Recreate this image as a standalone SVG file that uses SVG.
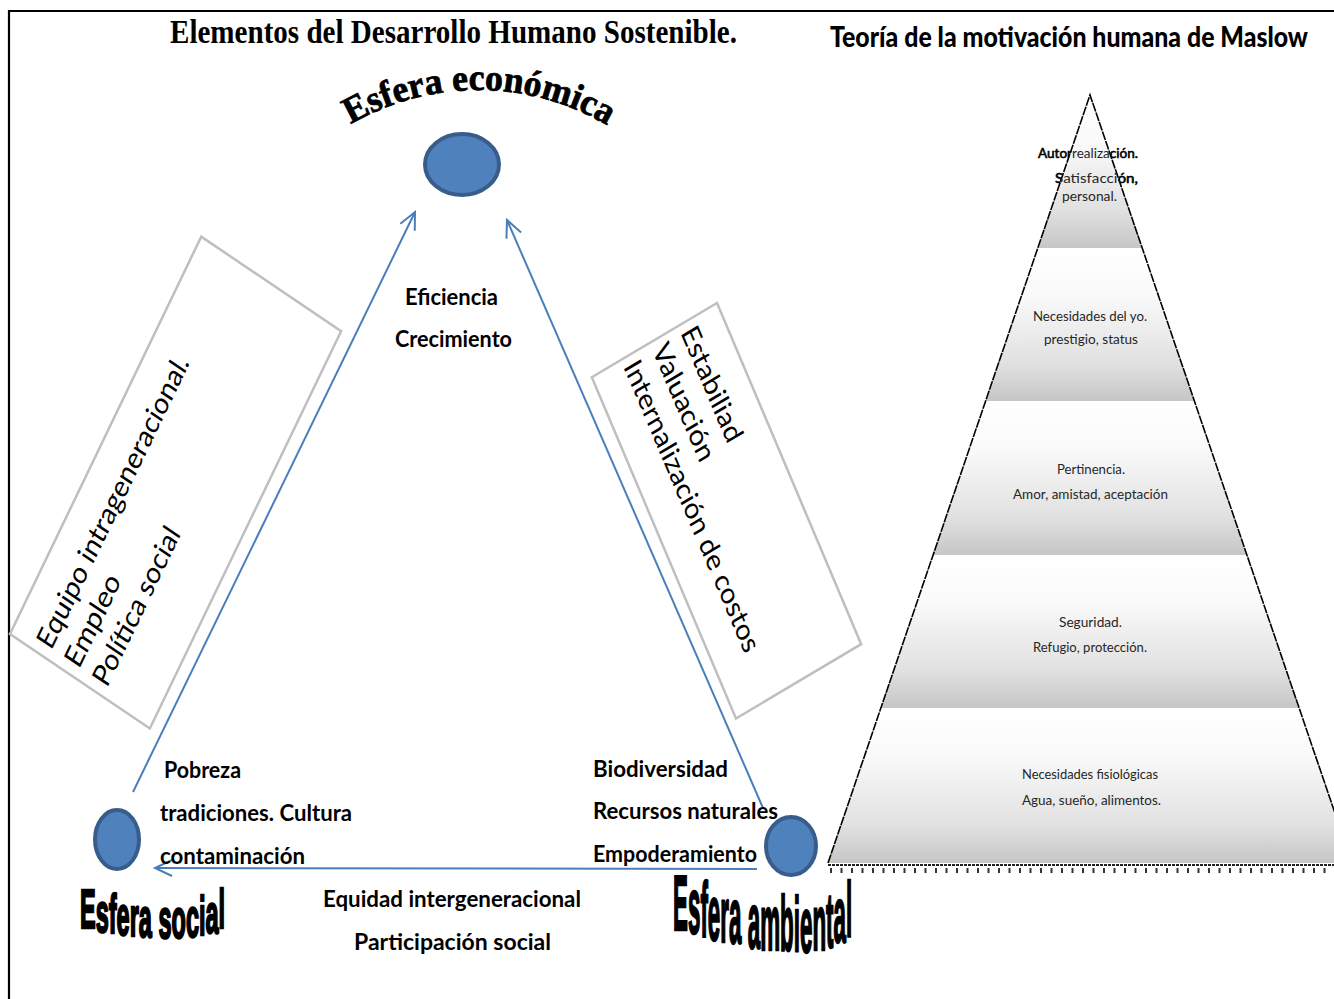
<svg xmlns="http://www.w3.org/2000/svg" width="1334" height="999" viewBox="0 0 1334 999">
<style>
.frame{stroke:#000;stroke-width:2.2;fill:none}
.conn{stroke:#4a7ebb;stroke-width:2;fill:none}
.node{fill:#4f81bd;stroke:#385d8a;stroke-width:4}
.lbl{font-family:Lato,"Liberation Sans",sans-serif;font-weight:700;font-size:23px;fill:#000}
.box{fill:#fff;stroke:#bfbfbf;stroke-width:2.5;vector-effect:non-scaling-stroke}
.boxtxt{font-family:Lato,"Liberation Sans",sans-serif;font-size:26px;fill:#000}
.art{font-family:"Liberation Sans",Arial,sans-serif;font-weight:700;fill:#000;stroke:#000;stroke-width:2.5}
.pyr{font-family:Lato,"Liberation Sans",sans-serif;font-size:14px;fill:#262626}
.band{fill:url(#bandGrad)}
</style>
<defs>
<marker id="arr" markerUnits="userSpaceOnUse" viewBox="-20 -12 24 24" markerWidth="24" markerHeight="24" refX="0" refY="0" orient="auto">
<path d="M-17,-8 L0,0 L-17,8" fill="none" stroke="#4a7ebb" stroke-width="2"/>
</marker>
<linearGradient id="bandGrad" x1="0" y1="0" x2="0" y2="1">
<stop offset="0" stop-color="#ffffff"/>
<stop offset="0.3" stop-color="#fafafa"/>
<stop offset="0.75" stop-color="#e1e1e1"/>
<stop offset="1" stop-color="#c6c6c6"/>
</linearGradient>
<clipPath id="clipTop"><polygon points="1090,95 1142.2,248 1037.8,248"/></clipPath>
<path id="arcEco" d="M332,136 A255,255 0 0 1 624,136"/>
</defs>
<rect width="1334" height="999" fill="#fff"/>
<g id="frame">
<line class="frame" x1="8" y1="11" x2="1334" y2="11"/>
<line class="frame" x1="9" y1="10" x2="9" y2="999"/>
</g>
<g id="titles">
<text x="170" y="43" textLength="567" lengthAdjust="spacingAndGlyphs" font-family="'Liberation Serif',serif" font-weight="700" font-size="34">Elementos del Desarrollo Humano Sostenible.</text>
<text x="830" y="47" textLength="478" lengthAdjust="spacingAndGlyphs" font-family="Lato,'Liberation Sans',sans-serif" font-weight="900" font-size="28">Teoría de la motivación humana de Maslow</text>
</g>
<g id="connectors">
<path class="conn" d="M133,792 L415,212" marker-end="url(#arr)"/>
<path class="conn" d="M763,808 L507,220" marker-end="url(#arr)"/>
<path class="conn" d="M757,869 L155,868" marker-end="url(#arr)"/>
</g>
<g id="node-economica">
<ellipse class="node" cx="462" cy="164.5" rx="37" ry="30.5"/>
<text font-family="'Liberation Serif',serif" font-weight="700" font-size="37" stroke="#000" stroke-width="0.8"><textPath href="#arcEco" startOffset="22" textLength="269" lengthAdjust="spacingAndGlyphs">Esfera económica</textPath></text>
</g>
<g id="node-social">
<ellipse class="node" cx="117" cy="839.5" rx="22" ry="29.5"/>
<text class="art" font-size="56" transform="translate(80,0) scale(0.42,1)" x="0" y="928 932 933 935 936 937 937 938 938 937 935 933 928">Esfera social</text>
</g>
<g id="node-ambiental">
<ellipse class="node" cx="791" cy="846" rx="25" ry="29"/>
<text class="art" font-size="78" transform="translate(673,0) scale(0.287,1)" x="0" y="930 933 937 940 942 943 945 948 950 951 952 952 950 947 942 937">Esfera ambiental</text>
</g>
<g id="labels">
<text class="lbl" x="405" y="305" textLength="93" lengthAdjust="spacingAndGlyphs">Eficiencia</text>
<text class="lbl" x="395" y="347" textLength="117" lengthAdjust="spacingAndGlyphs">Crecimiento</text>
<text class="lbl" x="164" y="778" textLength="77" lengthAdjust="spacingAndGlyphs">Pobreza</text>
<text class="lbl" x="160" y="821" textLength="192" lengthAdjust="spacingAndGlyphs">tradiciones. Cultura</text>
<text class="lbl" x="160" y="864" textLength="145" lengthAdjust="spacingAndGlyphs">contaminación</text>
<text class="lbl" x="323" y="907" textLength="258" lengthAdjust="spacingAndGlyphs">Equidad intergeneracional</text>
<text class="lbl" x="354" y="950" textLength="197" lengthAdjust="spacingAndGlyphs">Participación social</text>
<text class="lbl" x="593" y="777" textLength="135" lengthAdjust="spacingAndGlyphs">Biodiversidad</text>
<text class="lbl" x="593" y="819" textLength="185" lengthAdjust="spacingAndGlyphs">Recursos naturales</text>
<text class="lbl" x="593" y="862" textLength="164" lengthAdjust="spacingAndGlyphs">Empoderamiento</text>
</g>
<g id="box-social-aspects" transform="scale(1,1.185)">
<g transform="translate(10,535) rotate(-60.3)">
<rect class="box" x="0" y="0" width="386" height="161"/>
<text class="boxtxt" x="8" y="43" textLength="280" lengthAdjust="spacingAndGlyphs">Equipo intrageneracional.</text>
<text class="boxtxt" x="8" y="75" textLength="86" lengthAdjust="spacingAndGlyphs">Empleo</text>
<text class="boxtxt" x="8" y="107" textLength="150" lengthAdjust="spacingAndGlyphs">Política social</text>
</g>
</g>
<g id="box-environmental-aspects" transform="scale(1,1.185)">
<g transform="translate(717,255.7) rotate(63.4)">
<rect class="box" x="0" y="0" width="322" height="140"/>
<text class="boxtxt" x="6" y="44" textLength="106" lengthAdjust="spacingAndGlyphs">Estabiliad</text>
<text class="boxtxt" x="6" y="76" textLength="108" lengthAdjust="spacingAndGlyphs">Valuación</text>
<text class="boxtxt" x="6" y="108" textLength="272" lengthAdjust="spacingAndGlyphs">Internalización de costos</text>
</g>
</g>
<g id="pyramid">
<g fill="#000" stroke="#000" stroke-width="0.6" font-family="Lato,'Liberation Sans',sans-serif" font-size="14">
<text x="1038" y="158" textLength="100" lengthAdjust="spacingAndGlyphs">Autorrealización.</text>
<text x="1055" y="183" textLength="83" lengthAdjust="spacingAndGlyphs">Satisfacción,</text>
</g>
<polygon class="band" points="1090,95 1142.2,248 1037.8,248"/>
<polygon class="band" points="1037.8,248 1142.2,248 1194.4,401 985.6,401"/>
<polygon class="band" points="985.6,401 1194.4,401 1246.9,555 933.1,555"/>
<polygon class="band" points="933.1,555 1246.9,555 1299.1,708 880.9,708"/>
<polygon class="band" points="880.9,708 1299.1,708 1352,863 828,863"/>
<polyline points="828,863 1090,95 1352,863" fill="none" stroke="#000" stroke-width="1.6" stroke-dasharray="9 1"/>
<line x1="828" y1="865" x2="1334" y2="865" stroke="#222" stroke-width="2.2" stroke-dasharray="3 1"/>
<line x1="830" y1="870.5" x2="1334" y2="870.5" stroke="#333" stroke-width="5" stroke-dasharray="2 8.5"/>
<g clip-path="url(#clipTop)">
<text class="pyr" x="1038" y="158" textLength="100" lengthAdjust="spacingAndGlyphs">Autorrealización.</text>
<text class="pyr" x="1055" y="183" textLength="83" lengthAdjust="spacingAndGlyphs">Satisfacción,</text>
</g>
<text class="pyr" x="1062" y="201" textLength="55" lengthAdjust="spacingAndGlyphs">personal.</text>
<text class="pyr" x="1033" y="321" textLength="114" lengthAdjust="spacingAndGlyphs">Necesidades del yo.</text>
<text class="pyr" x="1044" y="344" textLength="94" lengthAdjust="spacingAndGlyphs">prestigio, status</text>
<text class="pyr" x="1057" y="474" textLength="68" lengthAdjust="spacingAndGlyphs">Pertinencia.</text>
<text class="pyr" x="1013" y="499" textLength="155" lengthAdjust="spacingAndGlyphs">Amor, amistad, aceptación</text>
<text class="pyr" x="1059" y="627" textLength="63" lengthAdjust="spacingAndGlyphs">Seguridad.</text>
<text class="pyr" x="1033" y="652" textLength="114" lengthAdjust="spacingAndGlyphs">Refugio, protección.</text>
<text class="pyr" x="1022" y="779" textLength="136" lengthAdjust="spacingAndGlyphs">Necesidades fisiológicas</text>
<text class="pyr" x="1022" y="805" textLength="139" lengthAdjust="spacingAndGlyphs">Agua, sueño, alimentos.</text>
</g>
</svg>
